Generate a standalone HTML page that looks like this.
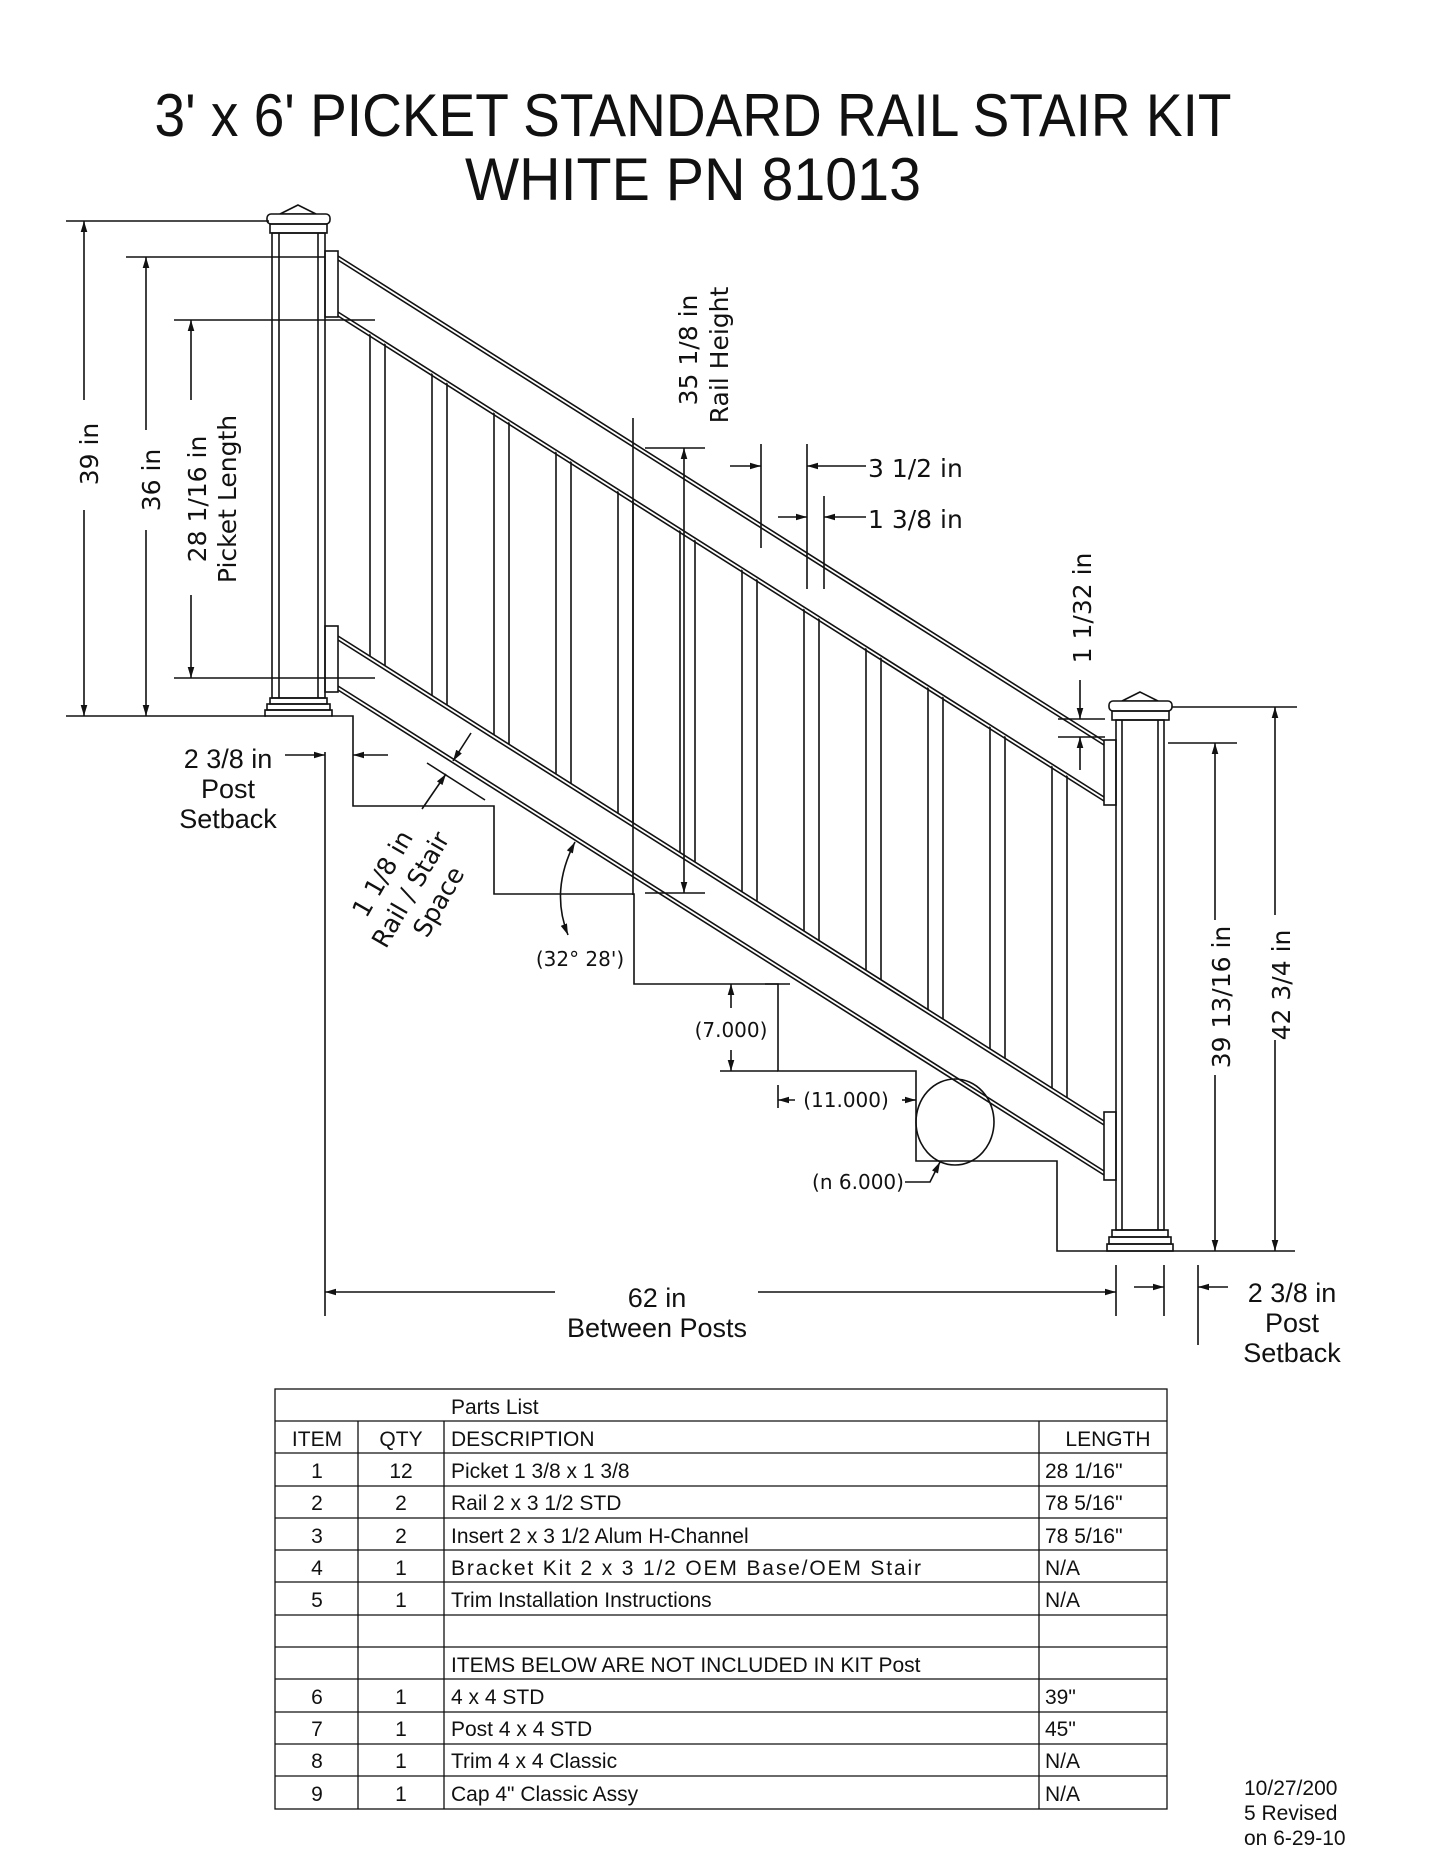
<!DOCTYPE html>
<html><head><meta charset="utf-8"><style>
html,body{margin:0;padding:0;background:#fff;}
svg{display:block;}
text{font-family:"DejaVu Sans","Liberation Sans",sans-serif;fill:#111;}
.t{font-family:"Liberation Sans",sans-serif;}
</style></head><body>
<svg width="1445" height="1871" viewBox="0 0 1445 1871" xmlns="http://www.w3.org/2000/svg">
<defs>
<marker id="a" viewBox="0 0 10 10" refX="10" refY="5" markerWidth="7" markerHeight="7" orient="auto-start-reverse"><path d="M0,2 L10,5 L0,8 z" fill="#111"/></marker>
<clipPath id="pk"><polygon points="338,314 1104,799 1104,1121 338,636"/></clipPath>
</defs>
<g stroke="#111" fill="none" stroke-width="1.6">
<text class="t" x="693" y="136" font-size="60" text-anchor="middle" textLength="1077" lengthAdjust="spacingAndGlyphs" stroke="none">3' x 6' PICKET STANDARD RAIL STAIR KIT</text>
<text class="t" x="693" y="200" font-size="60" text-anchor="middle" textLength="456" lengthAdjust="spacingAndGlyphs" stroke="none">WHITE PN 81013</text>

<polygon points="298,205 280,214 316,214" fill="#fff"/>
<rect x="267" y="214" width="63" height="10" rx="4" fill="#fff"/>
<rect x="270" y="224" width="57" height="9"/>
<rect x="272" y="233" width="53" height="465"/>
<line x1="279" y1="233" x2="279" y2="698"/><line x1="318" y1="233" x2="318" y2="698"/>
<rect x="270" y="698" width="57" height="6"/>
<rect x="267" y="704" width="63" height="6"/>
<rect x="265" y="710" width="67" height="6"/>
<polygon points="1140,692 1122,701 1158,701" fill="#fff"/>
<rect x="1109" y="701" width="63" height="10" rx="4" fill="#fff"/>
<rect x="1112" y="711" width="57" height="9"/>
<rect x="1116" y="720" width="48" height="510"/>
<line x1="1122" y1="720" x2="1122" y2="1230"/><line x1="1158" y1="720" x2="1158" y2="1230"/>
<rect x="1112" y="1230" width="56" height="7"/>
<rect x="1109" y="1237" width="62" height="7"/>
<rect x="1107" y="1244" width="66" height="7"/>
<rect x="325" y="251" width="13" height="66"/>
<rect x="325" y="626" width="13" height="66"/>
<rect x="1104" y="740" width="12" height="65"/>
<rect x="1104" y="1112" width="12" height="68"/>
<line x1="338" y1="256" x2="1104" y2="741"/><line x1="338" y1="260" x2="1104" y2="745"/>
<line x1="338" y1="312" x2="1104" y2="797"/><line x1="338" y1="316" x2="1104" y2="801"/>
<line x1="338" y1="636" x2="1104" y2="1121"/><line x1="338" y1="640" x2="1104" y2="1125"/>
<line x1="338" y1="686" x2="1104" y2="1171"/><line x1="338" y1="690" x2="1104" y2="1175"/>
<g clip-path="url(#pk)">
<path d="M370,300V1200M385,300V1200M432,300V1200M447,300V1200M494,300V1200M509,300V1200M556,300V1200M571,300V1200M618,300V1200M633,300V1200M680,300V1200M695,300V1200M742,300V1200M757,300V1200M804,300V1200M819,300V1200M866,300V1200M881,300V1200M928,300V1200M943,300V1200M990,300V1200M1005,300V1200M1052,300V1200M1067,300V1200"/>
</g>
<polyline points="331,716 353,716 353,806 494,806 494,894 634,894 634,984 778,984 778,1071 916,1071 916,1161 1057,1161 1057,1251 1295,1251"/>
<line x1="66" y1="221" x2="269" y2="221"/><line x1="66" y1="716" x2="266" y2="716"/>
<line x1="84" y1="221" x2="84" y2="400" marker-start="url(#a)"/><line x1="84" y1="510" x2="84" y2="716" marker-end="url(#a)"/>
<line x1="126" y1="257" x2="325" y2="257"/>
<line x1="146" y1="257" x2="146" y2="430" marker-start="url(#a)"/><line x1="146" y1="530" x2="146" y2="716" marker-end="url(#a)"/>
<line x1="174" y1="320" x2="375" y2="320"/><line x1="174" y1="678" x2="375" y2="678"/>
<line x1="191" y1="320" x2="191" y2="400" marker-start="url(#a)"/><line x1="191" y1="595" x2="191" y2="678" marker-end="url(#a)"/>
<text transform="translate(98,454) rotate(-90)" font-size="25" text-anchor="middle" stroke="none">39 in</text>
<text transform="translate(160,480) rotate(-90)" font-size="25" text-anchor="middle" stroke="none">36 in</text>
<text transform="translate(206,499) rotate(-90)" font-size="25" text-anchor="middle" stroke="none">28 1/16 in</text>
<text transform="translate(236,499) rotate(-90)" font-size="25" text-anchor="middle" stroke="none">Picket Length</text>
<line x1="633" y1="418" x2="633" y2="895"/>
<line x1="645" y1="448" x2="705" y2="448"/><line x1="645" y1="893" x2="705" y2="893"/>
<line x1="684" y1="448" x2="684" y2="893" marker-start="url(#a)" marker-end="url(#a)"/>
<text transform="translate(697,350) rotate(-90)" font-size="25" text-anchor="middle" stroke="none">35 1/8 in</text>
<text transform="translate(728,355) rotate(-90)" font-size="25" text-anchor="middle" stroke="none">Rail Height</text>
<line x1="761" y1="444" x2="761" y2="548"/><line x1="807" y1="444" x2="807" y2="589"/><line x1="824" y1="496" x2="824" y2="589"/>
<line x1="730" y1="466" x2="761" y2="466" marker-end="url(#a)"/><line x1="866" y1="466" x2="807" y2="466" marker-end="url(#a)"/>
<line x1="778" y1="517" x2="807" y2="517" marker-end="url(#a)"/><line x1="866" y1="517" x2="824" y2="517" marker-end="url(#a)"/>
<text x="868" y="477" font-size="25" stroke="none">3 1/2 in</text>
<text x="868" y="528" font-size="25" stroke="none">1 3/8 in</text>
<line x1="1058" y1="719" x2="1105" y2="719"/><line x1="1058" y1="737" x2="1105" y2="737"/>
<line x1="1080" y1="680" x2="1080" y2="719" marker-end="url(#a)"/><line x1="1080" y1="770" x2="1080" y2="737" marker-end="url(#a)"/>
<text transform="translate(1091,608) rotate(-90)" font-size="25" text-anchor="middle" stroke="none">1 1/32 in</text>
<line x1="1168" y1="743" x2="1237" y2="743"/><line x1="1172" y1="707" x2="1297" y2="707"/>
<line x1="1215" y1="743" x2="1215" y2="920" marker-start="url(#a)"/><line x1="1215" y1="1075" x2="1215" y2="1251" marker-end="url(#a)"/>
<line x1="1275" y1="707" x2="1275" y2="915" marker-start="url(#a)"/><line x1="1275" y1="1040" x2="1275" y2="1251" marker-end="url(#a)"/>
<text transform="translate(1230,997) rotate(-90)" font-size="25" text-anchor="middle" stroke="none">39 13/16 in</text>
<text transform="translate(1290,985) rotate(-90)" font-size="25" text-anchor="middle" stroke="none">42 3/4 in</text>
<line x1="325" y1="752" x2="325" y2="1316"/>
<line x1="1116" y1="1265" x2="1116" y2="1316"/><line x1="1164" y1="1265" x2="1164" y2="1316"/><line x1="1198" y1="1265" x2="1198" y2="1345"/>
<line x1="555" y1="1292" x2="325" y2="1292" marker-end="url(#a)"/><line x1="758" y1="1292" x2="1116" y2="1292" marker-end="url(#a)"/>
<line x1="1134" y1="1287" x2="1164" y2="1287" marker-end="url(#a)"/><line x1="1228" y1="1287" x2="1198" y2="1287" marker-end="url(#a)"/>
<text class="t" x="657" y="1307" font-size="27" text-anchor="middle" stroke="none">62 in</text>
<text class="t" x="657" y="1337" font-size="27" text-anchor="middle" stroke="none">Between Posts</text>
<text class="t" x="1292" y="1302" font-size="27" text-anchor="middle" stroke="none">2 3/8 in</text>
<text class="t" x="1292" y="1332" font-size="27" text-anchor="middle" stroke="none">Post</text>
<text class="t" x="1292" y="1362" font-size="27" text-anchor="middle" stroke="none">Setback</text>
<line x1="285" y1="755" x2="325" y2="755" marker-end="url(#a)"/><line x1="388" y1="755" x2="353" y2="755" marker-end="url(#a)"/>
<text class="t" x="228" y="768" font-size="27" text-anchor="middle" stroke="none">2 3/8 in</text>
<text class="t" x="228" y="798" font-size="27" text-anchor="middle" stroke="none">Post</text>
<text class="t" x="228" y="828" font-size="27" text-anchor="middle" stroke="none">Setback</text>
<line x1="427" y1="763" x2="485" y2="800"/>
<line x1="471" y1="733" x2="453" y2="761" marker-end="url(#a)"/>
<line x1="422" y1="809" x2="446" y2="774" marker-end="url(#a)"/>
<text transform="translate(390,878) rotate(-60)" font-size="25" text-anchor="middle" stroke="none">1 1/8 in</text>
<text transform="translate(418,894) rotate(-60)" font-size="25" text-anchor="middle" stroke="none">Rail / Stair</text>
<text transform="translate(446,906) rotate(-60)" font-size="25" text-anchor="middle" stroke="none">Space</text>
<path d="M568,935 Q550,890 575,842" marker-start="url(#a)" marker-end="url(#a)"/>
<text x="580" y="966" font-size="20" text-anchor="middle" stroke="none">(32° 28')</text>
<line x1="765" y1="984" x2="790" y2="984"/>
<line x1="731" y1="1008" x2="731" y2="984" marker-end="url(#a)"/>
<line x1="720" y1="1071" x2="778" y2="1071"/>
<line x1="731" y1="1050" x2="731" y2="1071" marker-end="url(#a)"/>
<text x="731" y="1037" font-size="20" text-anchor="middle" stroke="none">(7.000)</text>
<line x1="778" y1="1085" x2="778" y2="1108"/>
<line x1="795" y1="1100" x2="778" y2="1100" marker-end="url(#a)"/><line x1="902" y1="1100" x2="916" y2="1100" marker-end="url(#a)"/>
<text x="846" y="1107" font-size="20" text-anchor="middle" stroke="none">(11.000)</text>
<ellipse cx="955" cy="1122" rx="39" ry="43"/>
<path d="M905,1182 L930,1182 L940,1162" marker-end="url(#a)"/>
<text x="858" y="1189" font-size="20" text-anchor="middle" stroke="none">(n 6.000)</text>
<g stroke-width="1.3">
<rect x="275" y="1389" width="892" height="420"/>
<path d="M275,1421H1167M275,1453H1167M275,1486H1167M275,1518H1167M275,1550H1167M275,1582H1167M275,1615H1167M275,1647H1167M275,1679H1167M275,1712H1167M275,1744H1167M275,1776H1167"/>
<path d="M358,1421V1809M444,1421V1809M1039,1421V1809"/>
</g>
<g font-size="21" stroke="none">
<text x="451" y="1414" class="t">Parts List</text>
<text x="317" y="1446" text-anchor="middle" class="t">ITEM</text><text x="401" y="1446" text-anchor="middle" class="t">QTY</text><text x="451" y="1446" class="t">DESCRIPTION</text><text x="1108" y="1446" text-anchor="middle" class="t">LENGTH</text>
<text x="317" y="1478" text-anchor="middle" class="t">1</text><text x="401" y="1478" text-anchor="middle" class="t">12</text><text x="451" y="1478" class="t">Picket 1 3/8 x 1 3/8</text><text x="1045" y="1478" class="t">28 1/16"</text>
<text x="317" y="1510" text-anchor="middle" class="t">2</text><text x="401" y="1510" text-anchor="middle" class="t">2</text><text x="451" y="1510" class="t">Rail 2 x 3 1/2 STD</text><text x="1045" y="1510" class="t">78 5/16"</text>
<text x="317" y="1543" text-anchor="middle" class="t">3</text><text x="401" y="1543" text-anchor="middle" class="t">2</text><text x="451" y="1543" class="t">Insert 2 x 3 1/2 Alum H-Channel</text><text x="1045" y="1543" class="t">78 5/16"</text>
<text x="317" y="1575" text-anchor="middle" class="t">4</text><text x="401" y="1575" text-anchor="middle" class="t">1</text><text x="451" y="1575" class="t" textLength="470" lengthAdjust="spacing">Bracket Kit 2 x 3 1/2 OEM Base/OEM Stair</text><text x="1045" y="1575" class="t">N/A</text>
<text x="317" y="1607" text-anchor="middle" class="t">5</text><text x="401" y="1607" text-anchor="middle" class="t">1</text><text x="451" y="1607" class="t">Trim Installation Instructions</text><text x="1045" y="1607" class="t">N/A</text>
<text x="451" y="1672" class="t">ITEMS BELOW ARE NOT INCLUDED IN KIT Post</text>
<text x="317" y="1704" text-anchor="middle" class="t">6</text><text x="401" y="1704" text-anchor="middle" class="t">1</text><text x="451" y="1704" class="t">4 x 4 STD</text><text x="1045" y="1704" class="t">39"</text>
<text x="317" y="1736" text-anchor="middle" class="t">7</text><text x="401" y="1736" text-anchor="middle" class="t">1</text><text x="451" y="1736" class="t">Post 4 x 4 STD</text><text x="1045" y="1736" class="t">45"</text>
<text x="317" y="1768" text-anchor="middle" class="t">8</text><text x="401" y="1768" text-anchor="middle" class="t">1</text><text x="451" y="1768" class="t">Trim 4 x 4 Classic</text><text x="1045" y="1768" class="t">N/A</text>
<text x="317" y="1801" text-anchor="middle" class="t">9</text><text x="401" y="1801" text-anchor="middle" class="t">1</text><text x="451" y="1801" class="t">Cap 4" Classic Assy</text><text x="1045" y="1801" class="t">N/A</text>
<text x="1244" y="1795" class="t">10/27/200</text>
<text x="1244" y="1820" class="t">5   Revised</text>
<text x="1244" y="1845" class="t">on 6-29-10</text>
</g>
</g>
</svg>
</body></html>
